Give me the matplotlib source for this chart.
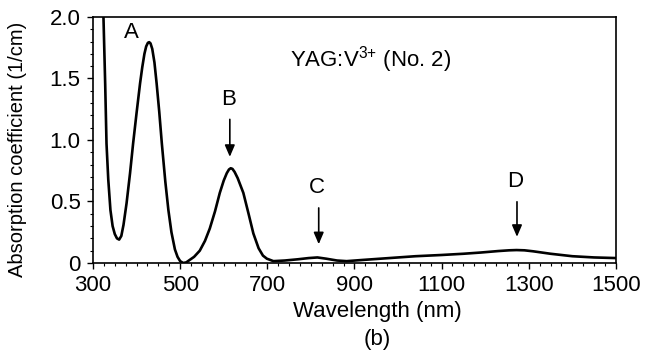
import matplotlib.pyplot as plt
from matplotlib.ticker import MultipleLocator

plt.rcParams['font.family'] = ['Liberation Sans', 'DejaVu Sans']
plt.rcParams['mathtext.fontset'] = 'custom'
plt.rcParams['mathtext.rm'] = 'Liberation Sans'

# Absorption spectrum of YAG:V3+ (sample No. 2)
wavelength = [318, 324, 328, 331, 335, 340, 345, 350, 355, 360, 365, 370, 377,
              385, 392, 400, 408, 413, 418, 422, 426, 429, 432, 436, 441, 446,
              452, 458, 466, 473, 480, 488, 494, 500, 507, 514, 520, 532, 545,
              557, 568, 580, 591, 600, 607, 612, 616, 620, 625, 632, 645, 657,
              668, 680, 690, 699, 714, 740, 770, 795, 815, 835, 860, 882, 920,
              980, 1040, 1100, 1150, 1190, 1230, 1255, 1272, 1290, 1310, 1350,
              1400, 1450, 1500]
absorption = [2.3, 2.0, 1.45, 0.97, 0.68, 0.43, 0.30, 0.235, 0.20, 0.19, 0.22,
              0.31, 0.485, 0.73, 0.97, 1.22, 1.46, 1.59, 1.70, 1.76, 1.79, 1.795,
              1.785, 1.74, 1.63, 1.46, 1.23, 0.97, 0.66, 0.43, 0.25, 0.11, 0.05,
              0.015, 0.0, 0.005, 0.02, 0.05, 0.10, 0.18, 0.28, 0.42, 0.57, 0.67,
              0.73, 0.76, 0.77, 0.765, 0.74, 0.69, 0.57, 0.40, 0.24, 0.12, 0.06,
              0.035, 0.015, 0.02, 0.03, 0.04, 0.045, 0.035, 0.02, 0.015, 0.025,
              0.04, 0.055, 0.065, 0.075, 0.085, 0.097, 0.103, 0.105, 0.103,
              0.095, 0.075, 0.055, 0.045, 0.04]

# band labels with arrows (label, x, text y, arrow tip y)
bands = [('B', 614, 1.33, 0.84), ('C', 818, 0.61, 0.13), ('D', 1273, 0.66, 0.19)]

fig = plt.figure(figsize=(6.49, 3.53), dpi=100)
ax = fig.add_axes([0.1433, 0.255, 0.8057, 0.697])

ax.plot(wavelength, absorption, color='black', lw=1.9)
ax.set_xlim(300, 1500)
ax.set_ylim(0, 2.0)
ax.set_xticks(range(300, 1501, 200))
ax.set_yticks([0, 0.5, 1.0, 1.5, 2.0])
ax.set_yticklabels(['0', '0.5', '1.0', '1.5', '2.0'])
ax.xaxis.set_minor_locator(MultipleLocator(25))
ax.yaxis.set_minor_locator(MultipleLocator(0.1))
ax.tick_params(which='major', length=4, width=1, labelsize=16, pad=5)
ax.tick_params(which='minor', length=2, width=0.8)
for s in ax.spines.values():
    s.set_linewidth(1.2)

ax.text(389, 1.87, 'A', fontsize=16, ha='center', va='center')
for name, x, ty, tip in bands:
    ax.text(x - 4, ty, name, fontsize=16, ha='center', va='center')
    ax.annotate('', xy=(x, tip), xytext=(x, ty - 0.14),
                arrowprops=dict(arrowstyle='-|>,head_length=0.7,head_width=0.3',
                                color='black', lw=1.2))

ax.text(752, 1.65, 'YAG:V$^{3{+}}$ (No. 2)', fontsize=16, ha='left', va='center')

fig.text(377 / 649, 1 - 312 / 353, 'Wavelength (nm)', fontsize=16,
         ha='center', va='center')
fig.text(377 / 649, 1 - 340 / 353, '(b)', fontsize=16, ha='center', va='center')
fig.text(18 / 649, 1 - 149 / 353, 'Absorption coefficient (1/cm)', fontsize=14.5,
         ha='center', va='center', rotation=90)

fig.savefig('out.png', dpi=100)
